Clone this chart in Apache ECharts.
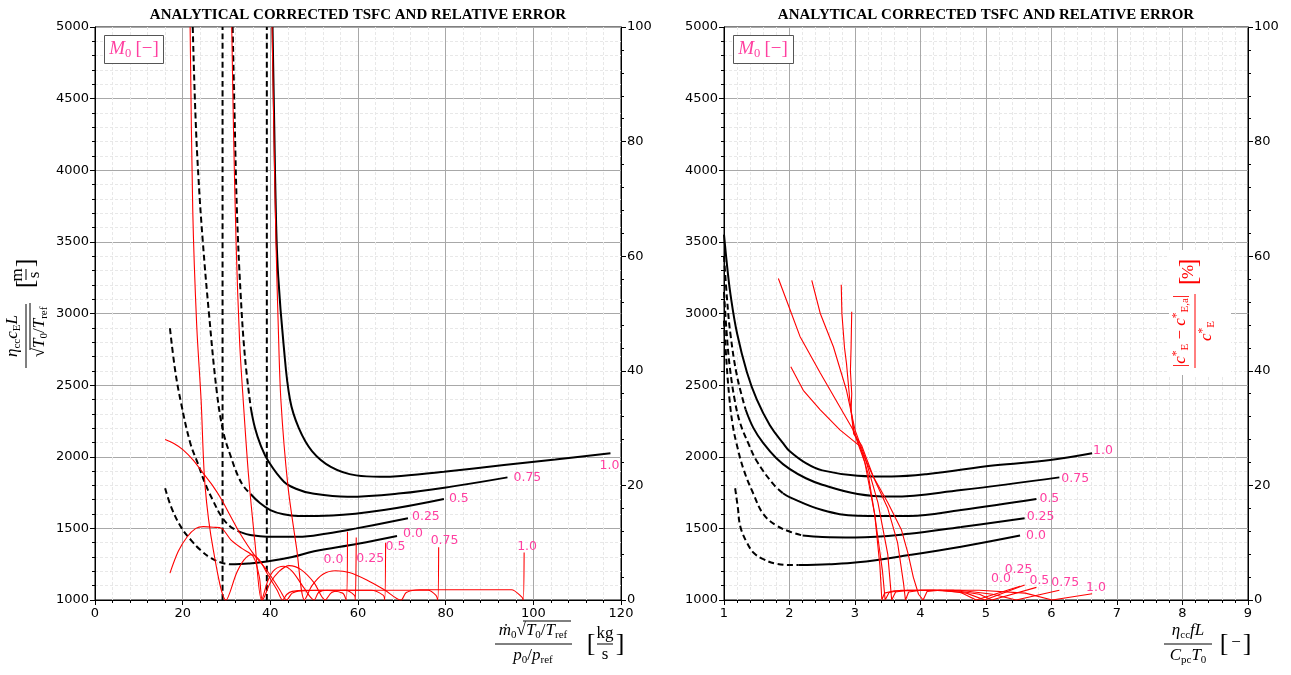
<!DOCTYPE html>
<html>
<head>
<meta charset="utf-8">
<script src="https://cdn.jsdelivr.net/npm/echarts@6/dist/echarts.min.js"></script>
<style>
  html, body { margin: 0; padding: 0; background: #fff; }
  #chart { width: 1291px; height: 675px; }
</style>
</head>
<body>
<div id="chart"></div>
<script>
// ---------- axis ranges / tick labels ----------
const massTicks = [0, 20, 40, 60, 80, 100, 120];
const heatTicks = [1, 2, 3, 4, 5, 6, 7, 8, 9];
const tsfcTicks = [1000, 1500, 2000, 2500, 3000, 3500, 4000, 4500, 5000];
const errTicks = [0, 20, 40, 60, 80, 100];
const machLabels = ['0.0', '0.25', '0.5', '0.75', '1.0'];

// ---------- left panel: corrected TSFC vs corrected mass flow ----------
const massM00Dash = [[16.0,1780],[17.5,1640],[19.8,1500],[22,1415],[24,1350],[26.5,1292],[28.9,1260],[30.8,1249]];
const massM00Solid = [[30.8,1249],[35,1255],[39.2,1268],[45,1300],[50,1340],[60,1393],[68.9,1447]];
const massM025Dash = [[17.1,2897],[18.3,2600],[19.6,2380],[21.7,2100],[23.5,1950],[25.1,1815],[27,1690],[28.9,1581],[31,1510],[33.5,1470]];
const massM025Solid = [[33.5,1470],[35.4,1454],[39.2,1442],[46.3,1442],[53,1465],[59.6,1500],[71.4,1570]];
const massM05Dash = [[22.3,5000],[22.9,4400],[23.6,3950],[24.6,3500],[26,3000],[27.8,2450],[29.3,2170],[31,2000],[32.7,1861],[34,1790],[35.5,1740]];
const massM05Solid = [[35.5,1740],[37.5,1680],[40,1628],[43,1598],[46.3,1586],[54.1,1590],[65.9,1628],[79.6,1705]];
const massM075Dash = [[31.4,5000],[31.9,4300],[32.4,3700],[33.2,3150],[34.2,2700],[35.5,2350]];
const massM075Solid = [[35.5,2350],[36.5,2200],[37.8,2080],[39.6,1966],[43.1,1826],[46,1775],[49.4,1745],[57.6,1721],[69.8,1745],[82,1795],[94.1,1856]];
const massM10 = [[40.5,5000],[40.9,4300],[41.3,3650],[41.8,3257],[43,2792],[44.5,2396],[46.5,2200],[49.5,2040],[53.8,1930],[59.6,1870],[65,1860],[69.8,1866],[79.6,1895],[93.3,1942],[105,1980],[117.6,2024]];
const massChoke1 = [[29.1,1000],[29.1,5000]];
const massChoke2 = [[39.2,1000],[39.2,5000]];

// relative error [%] (right axis)
const massErr00 = [[16.0,28],[18,27.3],[20.1,26.2],[22.4,24.4],[24.7,22.1],[26.8,20],[28.9,17.5],[30.8,14.8],[33.1,11.6],[36.1,8.1],[39.2,5.2],[42.2,1.7],[43.7,0],[45,1.2],[47,1.6],[52,1.7],[56.5,1.2],[57.3,0],[57.6,11.9]];
const massErr025 = [[17.1,4.7],[19,8.5],[21,11],[23,12.5],[24.7,12.8],[27,12.7],[28.9,12.5],[31,10.5],[33.5,9],[36.1,7.6],[37.5,4],[38.2,0],[40,3],[42,5],[44.3,6],[47,5.3],[50,3],[52.5,0],[54,1.3],[57,1.7],[59.2,0.8],[59.4,0],[59.6,10.9]];
const massErr05 = [[21.7,100],[22.3,68],[23.2,48],[24.2,35],[25.1,20],[27,8.7],[29.9,0],[32.3,4.7],[34,7],[35.7,7.9],[37.5,7],[39.2,4.7],[41.5,1.8],[42.8,0],[43.8,1.0],[45,1.5],[48,1.7],[63,1.7],[65.8,0.8],[66.1,0],[66.3,10]];
const massErr075 = [[31.2,100],[31.6,82],[32.2,62],[33,45],[33.8,35],[35,22],[36.5,10],[38,0],[39.5,3.5],[41,5.3],[43,5.9],[45,5],[47.5,2.3],[50,0],[51,1.3],[53,1.7],[76,1.7],[77.8,0.8],[78.2,0],[78.4,9.2]];
const massErr10 = [[40.4,100],[40.8,82],[41.3,62],[41.8,48],[42.4,35],[44,20],[46,9],[47.8,0],[49.5,2.5],[52,4.5],[54.9,5.1],[58,4.8],[62,3.5],[66,1.8],[69.8,0],[71,1.3],[74,1.8],[95,1.8],[97.4,0.5],[97.7,0],[97.9,8.3]];

// ---------- right panel: corrected TSFC vs heat addition parameter ----------
const heatM00Dash = [[1.17,1780],[1.21,1650],[1.25,1512],[1.35,1400],[1.46,1326],[1.6,1285],[1.77,1256],[2.04,1244],[2.14,1244]];
const heatM00Solid = [[2.14,1244],[2.6,1250],[3.04,1263],[3.83,1314],[4.62,1372],[5.52,1450]];
const heatM025Dash = [[1.0,2950],[1.04,2650],[1.08,2420],[1.13,2230],[1.19,2095],[1.3,1910],[1.45,1740],[1.6,1600],[1.8,1520],[2.0,1478],[2.2,1450]];
const heatM025Solid = [[2.2,1450],[2.5,1440],[3.0,1437],[3.83,1462],[4.62,1510],[5.59,1570]];
const heatM05Dash = [[1.0,3150],[1.04,2870],[1.09,2620],[1.17,2380],[1.25,2230],[1.37,2095],[1.5,1970],[1.75,1810],[1.9,1745]];
const heatM05Solid = [[1.9,1745],[2.0,1718],[2.5,1628],[3.04,1588],[3.83,1586],[4.62,1628],[5.77,1705]];
const heatM075Dash = [[1.0,3400],[1.05,3080],[1.1,2850],[1.2,2560],[1.33,2330]];
const heatM075Solid = [[1.33,2330],[1.45,2200],[1.6,2095],[1.8,1990],[2.0,1915],[2.25,1850],[2.5,1805],[3.04,1740],[3.56,1722],[4.62,1768],[6.12,1856]];
const heatM10 = [[1.0,3550],[1.05,3320],[1.1,3130],[1.2,2860],[1.35,2590],[1.5,2400],[1.7,2220],[1.91,2090],[2.0,2040],[2.25,1955],[2.5,1905],[3.04,1868],[3.56,1862],[4.09,1878],[5.14,1940],[5.98,1977],[6.62,2024]];

const heatErr00 = [[2.02,40.7],[2.21,36.6],[2.47,33.2],[2.77,29.7],[3.08,26.8],[3.2,22],[3.3,15],[3.38,6],[3.41,0],[3.45,1.2],[3.6,1.6],[4.2,1.7],[4.6,1.4],[4.85,0],[5.52,2.4]];
const heatErr025 = [[1.83,56.1],[2.01,50.6],[2.16,46],[2.47,39.6],[2.97,29.7],[3.15,24],[3.3,15],[3.42,5],[3.46,0],[3.52,1.3],[3.7,1.7],[4.3,1.7],[4.7,1.2],[4.98,0],[5.59,2.6]];
const heatErr05 = [[2.34,55.8],[2.47,50],[2.67,44.2],[2.87,36.6],[3.0,29.7],[3.15,25],[3.35,17],[3.5,8],[3.56,0],[3.62,1.4],[3.8,1.7],[4.5,1.7],[4.9,1],[5.09,0],[5.77,2.2]];
const heatErr075 = [[2.79,55],[2.8,50],[2.84,44],[2.87,41.3],[2.92,35],[2.98,29.7],[3.1,26],[3.3,21],[3.5,16],[3.65,10],[3.74,3],[3.77,0],[3.82,1.4],[4.0,1.7],[4.6,1.7],[5.1,1],[5.46,0],[6.12,1.7]];
const heatErr10 = [[2.95,50.3],[2.94,44],[2.93,40],[2.95,36],[2.94,33],[2.98,29],[3.1,27],[3.28,21.5],[3.5,17],[3.71,12.2],[3.81,8.1],[3.89,4],[3.97,1],[4.04,0],[4.1,1.5],[4.3,1.7],[4.9,1.7],[5.6,1.2],[6.01,0],[6.62,1.1]];

// ---------- styling ----------
const PINK = '#ff3fa0';
const RED = '#ff0000';
const TICK_FONT = { color: '#000', fontSize: 13, fontFamily: 'DejaVu Sans' };
const DASH = [6, 3.5];

function xAxisCfg(gridIndex, ticks) {
  return {
    type: 'value', gridIndex: gridIndex,
    min: ticks[0], max: ticks[ticks.length - 1], interval: ticks[1] - ticks[0],
    axisLine: { show: true, onZero: false, lineStyle: { color: '#000', width: 1 } },
    axisTick: { show: true, length: 5, lineStyle: { color: '#000' } },
    minorTick: { show: true, splitNumber: 5, length: 3, lineStyle: { color: '#000' } },
    axisLabel: Object.assign({ margin: 7, formatter: v => String(v) }, TICK_FONT),
    splitLine: { show: true, lineStyle: { color: '#a8a8a8', width: 1 } },
    minorSplitLine: { show: true, lineStyle: { color: '#e8e8e8', width: 1, type: [3, 2] } }
  };
}
function yLeftCfg(gridIndex) {
  return {
    type: 'value', gridIndex: gridIndex, position: 'left',
    min: tsfcTicks[0], max: tsfcTicks[tsfcTicks.length - 1], interval: 500,
    axisLine: { show: true, onZero: false, lineStyle: { color: '#000', width: 1 } },
    axisTick: { show: true, length: 5, lineStyle: { color: '#000' } },
    minorTick: { show: true, splitNumber: 5, length: 3, lineStyle: { color: '#000' } },
    axisLabel: Object.assign({ margin: 6, formatter: v => String(v) }, TICK_FONT),
    splitLine: { show: true, lineStyle: { color: '#a8a8a8', width: 1 } },
    minorSplitLine: { show: true, lineStyle: { color: '#e8e8e8', width: 1, type: [3, 2] } }
  };
}
function yRightCfg(gridIndex) {
  return {
    type: 'value', gridIndex: gridIndex, position: 'right',
    min: errTicks[0], max: errTicks[errTicks.length - 1], interval: 20,
    axisLine: { show: true, onZero: false, lineStyle: { color: '#000', width: 1 } },
    axisTick: { show: true, length: 5, lineStyle: { color: '#000' } },
    minorTick: { show: true, splitNumber: 5, length: 3, lineStyle: { color: '#000' } },
    axisLabel: Object.assign({ margin: 6, formatter: v => String(v) }, TICK_FONT),
    splitLine: { show: false }
  };
}

function blackLine(data, xi, yi, dashed, label, labelOffset) {
  const s = {
    type: 'line', data: data, xAxisIndex: xi, yAxisIndex: yi,
    symbol: 'none', smooth: 0.4, z: 3,
    lineStyle: { color: '#000', width: 2, type: dashed ? DASH : 'solid' },
    emphasis: { disabled: true }, silent: true
  };
  if (label) {
    s.endLabel = { show: true, formatter: label, color: PINK, fontSize: 12.5,
      fontFamily: 'DejaVu Sans', distance: 6, offset: labelOffset || [0, 0] };
  }
  return s;
}
function redLine(data, xi, yi, label, labelOffset, smooth) {
  const s = {
    type: 'line', data: data, xAxisIndex: xi, yAxisIndex: yi,
    symbol: 'none', smooth: smooth === undefined ? 0.3 : smooth, z: 4,
    lineStyle: { color: RED, width: 1.1 },
    emphasis: { disabled: true }, silent: true
  };
  if (label) {
    s.endLabel = { show: true, formatter: label, color: PINK, fontSize: 12.5,
      fontFamily: 'DejaVu Sans', distance: 4, offset: labelOffset || [0, 0] };
  }
  return s;
}

// ---------- axis label graphics (math-like text) ----------
const SERIF = 'Liberation Serif';
function mathText(x, y, text, rich, z) {
  return {
    type: 'text', x: x, y: y, silent: true, z: z || 5,
    style: { text: text, rich: rich, fill: '#000', align: 'center', verticalAlign: 'middle',
      font: 'italic 17px "' + SERIF + '"' }
  };
}
function bar(x1, y1, x2, y2, color, z) {
  return { type: 'line', silent: true, z: z || 5, shape: { x1: x1, y1: y1, x2: x2, y2: y2 },
    style: { stroke: color || '#000', lineWidth: 1 } };
}
function richSet(color) {
  return {
    i: { fontFamily: SERIF, fontStyle: 'italic', fontSize: 17, fill: color },
    r: { fontFamily: SERIF, fontSize: 17, fill: color },
    s: { fontFamily: SERIF, fontSize: 11, fill: color, padding: [9, 0, 0, 0] },
    p: { fontFamily: SERIF, fontSize: 11.5, fill: color, padding: [0, 0, 8, 0] },
    b: { fontFamily: SERIF, fontSize: 26, fill: color },
    L: { fontFamily: SERIF, fontStyle: 'italic', fontSize: 19, fill: color },
    Lr: { fontFamily: SERIF, fontSize: 19, fill: color },
    Ls: { fontFamily: SERIF, fontSize: 12.5, fill: color, padding: [10, 0, 0, 0] }
  };
}
const RB = richSet('#000');
const RR = richSet(RED);
const RP = richSet(PINK);
const TITLE = 'ANALYTICAL CORRECTED TSFC AND RELATIVE ERROR';

const graphics = [
  // titles
  { type: 'text', x: 358, y: 15, silent: true,
    style: { text: TITLE, fill: '#000', align: 'center', verticalAlign: 'middle', font: 'bold 15px "Liberation Serif"' } },
  { type: 'text', x: 986, y: 15, silent: true,
    style: { text: TITLE, fill: '#000', align: 'center', verticalAlign: 'middle', font: 'bold 15px "Liberation Serif"' } },
  // M0 legend boxes
  { type: 'rect', shape: { x: 104.5, y: 35.5, width: 59, height: 28 }, silent: true, z: 10,
    style: { fill: '#fff', stroke: '#555', lineWidth: 1 } },
  mathText(134, 49, '{L|M}{Ls|0} {Lr|[−]}', RP, 11),
  { type: 'rect', shape: { x: 733.5, y: 35.5, width: 60, height: 28 }, silent: true, z: 10,
    style: { fill: '#fff', stroke: '#555', lineWidth: 1 } },
  mathText(763, 49, '{L|M}{Ls|0} {Lr|[−]}', RP, 11),

  // left y-axis label (rotated)
  { type: 'group', x: 26, y: 336, rotation: Math.PI / 2, silent: true, children: [
      mathText(0, -13, '{i|η}{s|cc}{i|c}{s|E}{i|L}', RB),
      bar(-32, 0, 32, 0),
      mathText(4, 14, '{r|√}{i|T}{s|0}{r|/}{i|T}{s|ref}', RB),
      bar(-14, 4, 33, 4),
      mathText(52, 0, '{b|[}', RB),
      mathText(61, -8, '{r|m}', RB),
      bar(56, 0, 67, 0),
      mathText(61, 9, '{r|s}', RB),
      mathText(73, 0, '{b|]}', RB)
  ] },

  // left x-axis label
  mathText(533, 631, '{i|ṁ}{s|0}{r|√}{i|T}{s|0}{r|/}{i|T}{s|ref}', RB),
  bar(523, 621, 571, 621),
  bar(495, 644, 572, 644),
  mathText(533, 656, '{i|p}{s|0}{r|/}{i|p}{s|ref}', RB),
  mathText(591, 644, '{b|[}', RB),
  mathText(605, 634, '{r|kg}', RB),
  bar(597, 644, 613, 644),
  mathText(605, 655, '{r|s}', RB),
  mathText(620, 644, '{b|]}', RB),

  // right x-axis label
  mathText(1188, 631, '{i|η}{s|cc}{i|fL}', RB),
  bar(1164, 644, 1212, 644),
  mathText(1188, 656, '{i|C}{s|pc}{i|T}{s|0}', RB),
  mathText(1224, 644, '{b|[}', RB),
  mathText(1236, 643, '{r|−}', RB),
  mathText(1247, 644, '{b|]}', RB),

  // right-panel error axis label (red, on white box, rotated)
  { type: 'rect', shape: { x: 1169, y: 250, width: 62, height: 125 }, silent: true, z: 10,
    style: { fill: '#fff', stroke: 'none' } },
  { type: 'group', x: 1195, y: 331, rotation: Math.PI / 2, silent: true, children: [
      mathText(0, -14, '{r||}{i|c}{p|*}{s|E}{r| − }{i|c}{p|*}{s|E,a}{r||}', RR, 11),
      bar(-37, 0, 37, 0, RED, 11),
      mathText(0, 12, '{i|c}{p|*}{s|E}', RR, 11),
      mathText(50, -6, '{b|[}', RR, 11),
      mathText(59, -6, '{r|%}', RR, 11),
      mathText(68, -6, '{b|]}', RR, 11)
  ] }
];

const option = {
  animation: false,
  backgroundColor: '#fff',
  grid: [
    { left: 95, right: 670, top: 27, bottom: 75, show: true, borderColor: '#000', borderWidth: 1, backgroundColor: 'transparent' },
    { left: 724, right: 43, top: 27, bottom: 75, show: true, borderColor: '#000', borderWidth: 1, backgroundColor: 'transparent' }
  ],
  xAxis: [xAxisCfg(0, massTicks), xAxisCfg(1, heatTicks)],
  yAxis: [yLeftCfg(0), yRightCfg(0), yLeftCfg(1), yRightCfg(1)],
  series: [
    // left black
    blackLine(massChoke1, 0, 0, true),
    blackLine(massChoke2, 0, 0, true),
    blackLine(massM00Dash, 0, 0, true),
    blackLine(massM00Solid, 0, 0, false, machLabels[0], [0, -2]),
    blackLine(massM025Dash, 0, 0, true),
    blackLine(massM025Solid, 0, 0, false, machLabels[1], [-2, -2]),
    blackLine(massM05Dash, 0, 0, true),
    blackLine(massM05Solid, 0, 0, false, machLabels[2], [-1, 0]),
    blackLine(massM075Dash, 0, 0, true),
    blackLine(massM075Solid, 0, 0, false, machLabels[3], [0, 0]),
    blackLine(massM10, 0, 0, false, machLabels[4], [-17, 12]),
    // left red
    redLine(massErr00, 0, 1, machLabels[0], [-28, 28]),
    redLine(massErr025, 0, 1, machLabels[1], [-4, 21]),
    redLine(massErr05, 0, 1, machLabels[2], [-4, 4]),
    redLine(massErr075, 0, 1, machLabels[3], [-12, -7]),
    redLine(massErr10, 0, 1, machLabels[4], [-11, -6]),
    // right black
    blackLine(heatM00Dash, 1, 2, true),
    blackLine(heatM00Solid, 1, 2, false, machLabels[0], [0, 0]),
    blackLine(heatM025Dash, 1, 2, true),
    blackLine(heatM025Solid, 1, 2, false, machLabels[1], [-4, -2]),
    blackLine(heatM05Dash, 1, 2, true),
    blackLine(heatM05Solid, 1, 2, false, machLabels[2], [-3, 0]),
    blackLine(heatM075Dash, 1, 2, true),
    blackLine(heatM075Solid, 1, 2, false, machLabels[3], [-4, 1]),
    blackLine(heatM10, 1, 2, false, machLabels[4], [-5, -3]),
    // right red
    redLine(heatErr00, 1, 3, machLabels[0], [-33, -7], false),
    redLine(heatErr025, 1, 3, machLabels[1], [-24, -15], false),
    redLine(heatErr05, 1, 3, machLabels[2], [-11, -7], false),
    redLine(heatErr075, 1, 3, machLabels[3], [-12, -8], false),
    redLine(heatErr10, 1, 3, machLabels[4], [-10, -6], false)
  ],
  graphic: graphics
};

const chart = echarts.init(document.getElementById('chart'), null, { renderer: 'canvas' });
chart.setOption(option);
</script>
</body>
</html>
